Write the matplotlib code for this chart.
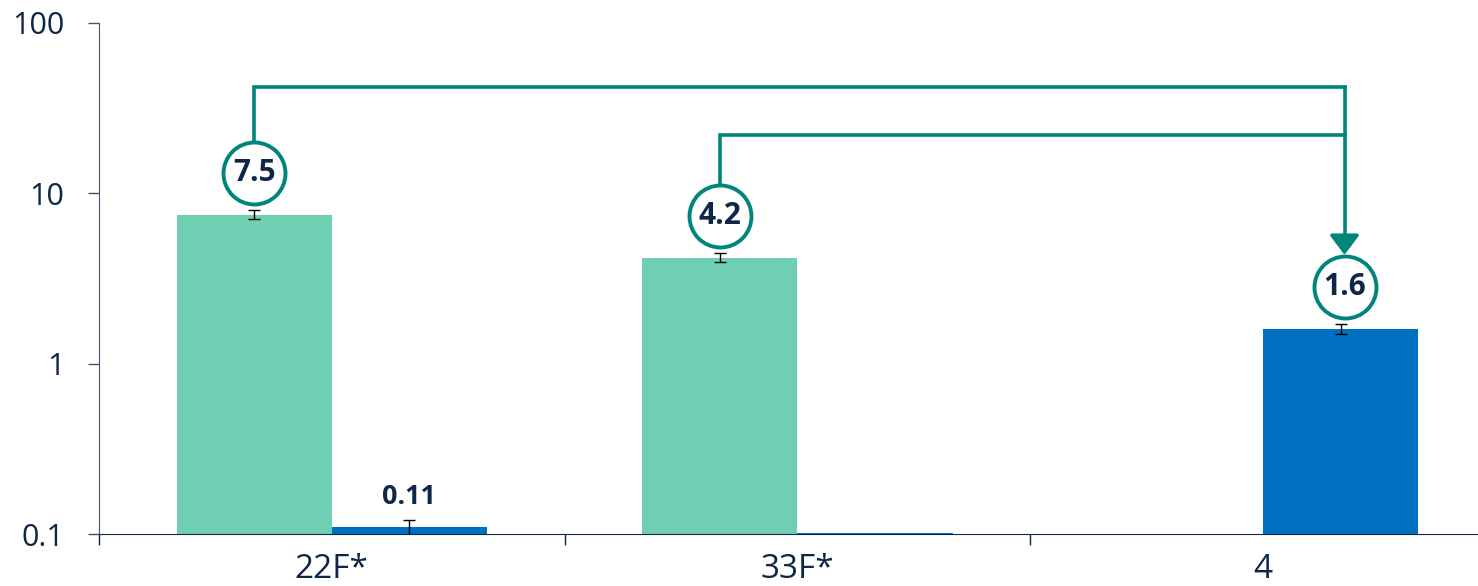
import numpy as np
import matplotlib.pyplot as plt
from matplotlib.transforms import ScaledTranslation

plt.rcParams['font.family'] = ['Open Sans', 'DejaVu Sans']

# serotype groups and the two series (None = no bar)
serotypes = ['22F*', '33F*', '4']
green_vals = [7.5, 4.2, None]
green_err = [0.45, 0.27, None]
blue_vals = [0.11, 0.101, 1.6]
blue_err = [0.011, 0.0, 0.1]

# circled values and the bracket linking them to the arrow target
callouts = [(0, 'green', 7.5), (1, 'green', 4.2), (2, 'blue', 1.6)]
labels = ['7.5', '4.2', '1.6']
bracket_levels = [42, 22]

GREEN = '#6FCFB3'
BLUE = '#0070C0'
TEAL = '#00857A'
NAVY = '#0F2747'

fig = plt.figure(figsize=(14.78, 5.86), dpi=100)
ax = fig.add_axes([99 / 1478, 52 / 586, 1 - 99 / 1478, 511 / 586])

x = np.arange(len(serotypes))
w = 1 / 3
base = 0.1

for i in range(len(serotypes)):
    if green_vals[i] is not None:
        ax.bar(x[i] - w / 2, green_vals[i] - base, w, bottom=base, color=GREEN)
        ax.errorbar(x[i] - w / 2, green_vals[i], yerr=green_err[i], color='black',
                    lw=1, capsize=4, capthick=1)
    if blue_vals[i] is not None:
        ax.bar(x[i] + w / 2, blue_vals[i] - base, w, bottom=base, color=BLUE)
        if blue_err[i]:
            ax.errorbar(x[i] + w / 2, blue_vals[i], yerr=blue_err[i], color='black',
                        lw=1, capsize=4, capthick=1)

ax.set_yscale('log')
ax.set_ylim(0.1, 100)
ax.set_xlim(-0.5, 2.462)
ax.set_yticks([0.1, 1, 10, 100])
ax.set_yticklabels(['0.1', '1', '10', '100'])
ax.minorticks_off()
ax.tick_params(axis='y', length=8, width=1, color='#44546A', labelsize=22,
               labelcolor=NAVY, pad=17)
ax.set_xticks(x)
ax.set_xticklabels(serotypes)
ax.tick_params(axis='x', length=0, labelsize=24, labelcolor=NAVY, pad=14)
ax.set_xticks([-0.5, 0.5, 1.5], minor=True)
ax.tick_params(axis='x', which='minor', length=8, width=1, color=NAVY)

for s in ['top', 'right']:
    ax.spines[s].set_visible(False)
ax.spines['left'].set_color('#44546A')
ax.spines['bottom'].set_color(NAVY)

# plain value label above the small blue bar
ax.annotate('0.11', (x[0] + w / 2, blue_vals[0] + blue_err[0]), xytext=(0, 7),
            textcoords='offset points', ha='center', va='bottom',
            fontsize=19.5, fontweight='bold', color=NAVY)

# circled callouts sit a fixed distance above their bars
radius_px = 31
centers = []
for (i, series, v), txt in zip(callouts, labels):
    cx = x[i] - w / 2 if series == 'green' else x[i] + w / 2
    dx = 4 if series == 'blue' else 0
    lift = ScaledTranslation(dx / 100, 42 / 100, fig.dpi_scale_trans)
    ax.plot(cx, v, marker='o', ms=2 * radius_px * 0.72, mfc='white', mec=TEAL,
            mew=2.8, transform=ax.transData + lift, zorder=5, clip_on=False)
    ax.text(cx, v, txt, transform=ax.transData + lift, ha='center', va='center',
            fontsize=21.5, fontweight='bold', color=NAVY, zorder=6)
    disp = ax.transData.transform((cx, v)) + np.array([dx, 42])
    centers.append(ax.transData.inverted().transform(disp))

# bracket lines from the two green callouts to the arrow over the blue one
tx, ty = centers[2]
tip = ax.transData.inverted().transform(ax.transData.transform((tx, ty)) + np.array([0, radius_px + 1]))
for (cx, cy), level in zip(centers[:2], bracket_levels):
    ax.plot([cx, cx, tx], [cy, level, level], color=TEAL, lw=2.6, zorder=4,
            solid_joinstyle='miter')
ax.plot([tx, tx], [bracket_levels[0], tip[1] * 1.15], color=TEAL, lw=2.6, zorder=4)
ax.annotate('', xy=tip, xytext=(tx, tip[1] * 1.3),
            arrowprops=dict(arrowstyle='-|>,head_length=0.6,head_width=0.45',
                            mutation_scale=20, color=TEAL, lw=2.6,
                            shrinkA=0, shrinkB=0), zorder=4)

fig.savefig('out.png', dpi=100)
